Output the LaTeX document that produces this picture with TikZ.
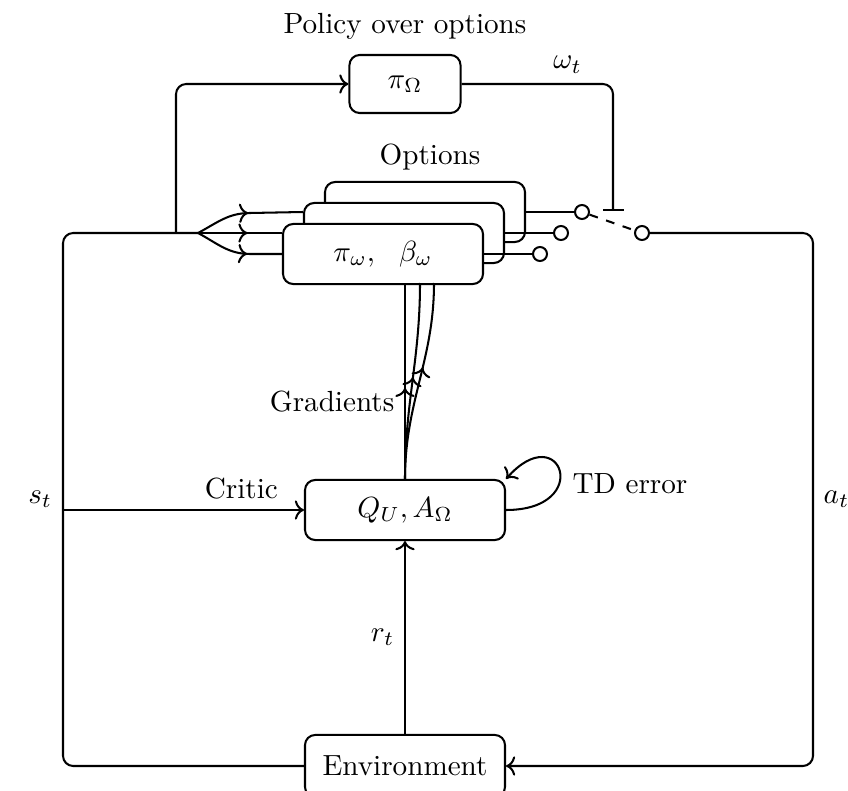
\documentclass[tikz,border=0pt]{standalone}
\usetikzlibrary{arrows.meta,positioning,calc,decorations.markings}
\tikzset{
  block/.style={rectangle, rounded corners=3.5pt, draw, fill=white,
                minimum width=68.6pt, minimum height=20.6pt},
  contact/.style={circle, draw, fill=white, inner sep=0pt, minimum size=4.8pt},
  midarrow/.style={postaction={decorate},
                   decoration={markings, mark=at position #1 with {\arrow{>}}}},
}

\begin{document}
\begin{tikzpicture}[x=0.343pt, y=-0.343pt, line width=0.7pt]
    \useasboundingbox (0,0) rectangle (848,791);
    % policy over options
    \node (title) at (405,26) {Policy over options};
    \node[block, minimum width=38.1pt, minimum height=19.9pt] (piO) at (405,84) {$\pi_\Omega$};
    % options, back to front
    \node (optlbl) at (430,157) {Options};
    \node[block] (opt3) at (425,212) {};
    \node[block] (opt2) at (404,233) {};
    \node[block] (opt1) at (383,254) {$\pi_\omega,\ \ \beta_\omega$};
    % switch contacts
    \node[contact] (c3) at (582,212) {};
    \node[contact] (c2) at (561,233) {};
    \node[contact] (c1) at (540,254) {};
    \node[contact] (cout) at (642,233) {};
    \coordinate (sw) at (613,211);
    % critic and environment
    \node[block] (critic) at (405,510) {$Q_U, A_\Omega$};
    \node[block, minimum height=21.3pt] (env) at (405,766) {Environment};
    \node (td) at (630,484) {TD error};
    \coordinate (lt) at (63,233);
    \coordinate (rt) at (813,233);
    \coordinate (split) at (198,233);
    \coordinate (tap) at (176,233);
    \coordinate (g2) at (420,283);
    \coordinate (g3) at (434,283);

    % state to the options and the policy over options
    \draw[rounded corners=3.5pt] (env.west) -| node[left, pos=0.75] {$s_t$} (lt) -- (split);
    \draw[->, rounded corners=3.5pt] (tap) |- (piO.west);
    \draw[midarrow=0.5] (split) to[out=28, in=180] ++(52,-20) -- (opt2.west |- opt3.west);
    \draw[midarrow=0.59] (split) -- (opt1.west |- opt2.west);
    \draw[midarrow=0.61] (split) to[out=-28, in=180] ++(52,21) -- (opt1.west);
    \draw[->] (lt |- critic.west) -- node[above, pos=0.74] {Critic} (critic.west);

    % switch
    \draw (opt3.east) -- (c3);
    \draw (opt2.east) -- (c2);
    \draw (opt1.east) -- (c1);
    \draw[dashed] (c3) -- (cout);
    \draw[-{Bar[width=7.2pt]}, rounded corners=3.5pt] (piO.east) -| node[above, pos=0.35] {$\omega_t$} (sw);
    \draw[->, rounded corners=3.5pt] (cout) -- (rt) |- node[right, pos=0.25] {$a_t$} (env.east);

    % critic
    \draw[->] (env) -- node[left] {$r_t$} (critic);
    \draw[->] (critic.east) .. controls +(88,0) and +(55,-62) .. (critic.north east);
    \draw[midarrow=0.47] (critic.north) -- node[left, pos=0.4] {Gradients} (critic.north |- opt1.south);
    \draw[midarrow=0.52] (critic.north) to[out=90, in=-90] (g2);
    \draw[midarrow=0.57] (critic.north) to[out=90, in=-90] (g3);
\end{tikzpicture}
\end{document}
